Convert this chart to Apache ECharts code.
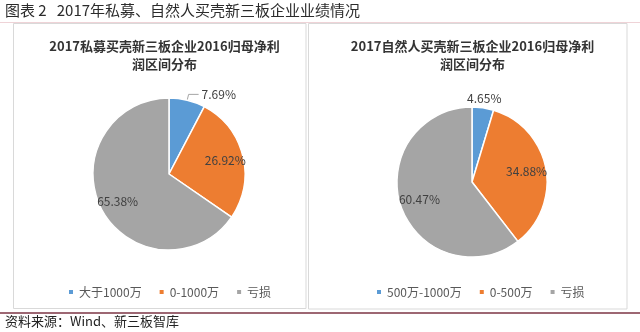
<!DOCTYPE html>
<html>
<head>
<meta charset="utf-8">
<script src="https://cdn.jsdelivr.net/npm/echarts@6/dist/echarts.min.js"></script>
<style>
  html, body { margin: 0; padding: 0; background: #ffffff; }
  #chart { width: 640px; height: 332px; }
</style>
</head>
<body>
<div id="chart"></div>
<script>
// 私募买壳企业 2016 归母净利润区间分布（%）
const leftNames = ['大于1000万', '0-1000万', '亏损'];
const leftValues = [7.69, 26.92, 65.38];

// 自然人买壳企业 2016 归母净利润区间分布（%）
const rightNames = ['500万-1000万', '0-500万', '亏损'];
const rightValues = [4.65, 34.88, 60.47];

const sliceColors = ['#5B9BD5', '#ED7D31', '#A5A5A5'];

const FONT = '"Noto Sans CJK SC", "Noto Sans", sans-serif';
const pct = p => p.value.toFixed(2) + '%';
const labelText = { fontFamily: FONT, fontSize: 12, color: '#404040' };

// visible slices; showIdx lists which slices carry an outside label
function mainPie(names, values, center, r, showIdx) {
  return {
    type: 'pie',
    center: center,
    radius: [0, r],
    startAngle: 90,
    clockwise: true,
    avoidLabelOverlap: false,
    animation: false,
    emphasis: { scale: false },
    itemStyle: { borderColor: '#ffffff', borderWidth: 1.5 },
    label: Object.assign({ show: false, position: 'outside', formatter: pct, distanceToLabelLine: 3 }, labelText),
    labelLine: { show: false, length: 6, length2: 10, lineStyle: { color: '#a6a6a6', width: 1 } },
    data: names.map((n, i) => ({
      name: n,
      value: values[i],
      itemStyle: { color: sliceColors[i] },
      label: { show: showIdx.includes(i) },
      labelLine: { show: showIdx.includes(i) }
    }))
  };
}

// transparent ring used only to place value labels at the ring's mid radius
function labelRing(names, values, center, radius, showIdx) {
  return {
    type: 'pie',
    center: center,
    radius: radius,
    startAngle: 90,
    clockwise: true,
    silent: true,
    animation: false,
    legendHoverLink: false,
    avoidLabelOverlap: false,
    itemStyle: { color: 'rgba(0,0,0,0)', borderWidth: 0 },
    emphasis: { disabled: true },
    label: Object.assign({ position: 'inside', formatter: pct }, labelText),
    labelLine: { show: false },
    data: names.map((n, i) => ({
      name: n,
      value: values[i],
      label: { show: showIdx.includes(i) }
    }))
  };
}

const leftCenter = [169, 174];
const rightCenter = [472, 182];

const legendStyle = {
  icon: 'rect',
  itemWidth: 6,
  itemHeight: 6,
  itemGap: 16,
  top: 281,
  selectedMode: false,
  textStyle: { fontFamily: FONT, fontSize: 12, color: '#595959' }
};

const titleStyle = {
  fontFamily: FONT,
  fontSize: 13,
  fontWeight: 'bold',
  color: '#333333',
  lineHeight: 18
};

const chart = echarts.init(document.getElementById('chart'), null, { renderer: 'canvas' });

chart.setOption({
  backgroundColor: '#ffffff',
  animation: false,
  title: [
    { text: '2017私募买壳新三板企业2016归母净利\n润区间分布', left: 159.5, top: 32, textAlign: 'center', textStyle: titleStyle },
    { text: '2017自然人买壳新三板企业2016归母净利\n润区间分布', left: 467.5, top: 32, textAlign: 'center', textStyle: titleStyle }
  ],
  legend: [
    Object.assign({ left: 62, data: leftNames }, legendStyle),
    Object.assign({ left: 370, data: rightNames }, legendStyle)
  ],
  series: [
    mainPie(leftNames, leftValues, leftCenter, 76, [0]),
    labelRing(leftNames, leftValues, leftCenter, [34, 76], [1, 2]),
    mainPie(rightNames, rightValues, rightCenter, 75, []),
    labelRing(rightNames, rightValues, rightCenter, [30, 75], [1, 2]),
    labelRing(rightNames, rightValues, rightCenter, [75, 88], [0])
  ],
  graphic: [
    { type: 'text', left: 5, top: 3, style: { text: '图表 2   2017年私募、自然人买壳新三板企业业绩情况', fontFamily: FONT, fontSize: 15, fill: '#2b2b2b' } },
    { type: 'line', shape: { x1: 0, y1: 22.5, x2: 640, y2: 22.5 }, style: { stroke: '#efd3d7', lineWidth: 1 } },
    { type: 'rect', shape: { x: 13.5, y: 23.5, width: 292.5, height: 285 }, style: { fill: 'none', stroke: '#d9d9d9', lineWidth: 1 } },
    { type: 'rect', shape: { x: 308.5, y: 23.5, width: 318.5, height: 285.5 }, style: { fill: 'none', stroke: '#d9d9d9', lineWidth: 1 } },
    { type: 'line', shape: { x1: 0, y1: 313, x2: 640, y2: 313 }, style: { stroke: '#7d3444', lineWidth: 1.5 } },
    { type: 'text', left: 5, top: 315, style: { text: '资料来源：Wind、新三板智库', fontFamily: FONT, fontSize: 13, fill: '#222222' } }
  ]
});
</script>
</body>
</html>
